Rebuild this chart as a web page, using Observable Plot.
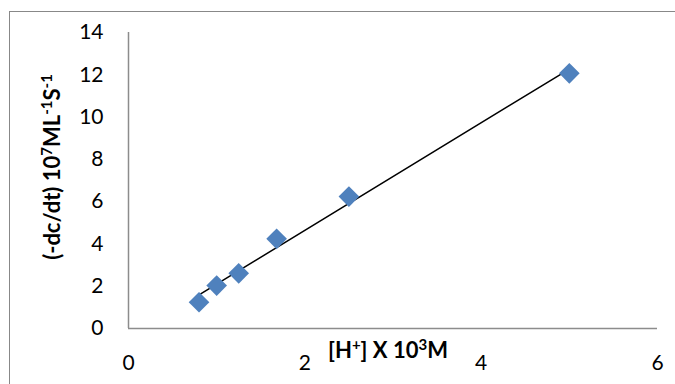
<!DOCTYPE html>
<html>
<head>
<meta charset="utf-8">
<script src="https://cdn.jsdelivr.net/npm/d3@7"></script>
<script src="https://cdn.jsdelivr.net/npm/@observablehq/plot@0.6"></script>
<style>
  html, body { margin: 0; padding: 0; background: #fff; overflow: hidden; }
  #wrap { position: relative; width: 675px; height: 384px; font-family: Lato, "Open Sans", sans-serif; }
  #border { position: absolute; left: 9px; top: 11px; width: 700px; height: 400px; border: 1.5px solid #888; box-sizing: border-box; }
  .title { position: absolute; font-weight: bold; font-size: 22px; color: #000; white-space: nowrap; line-height: 1; }
  .title sup { font-size: 15px; vertical-align: 8px; line-height: 0; }
  #ytitle { left: 52px; top: 167px; transform: translate(-50%, -50%) rotate(-90deg); }
  #xtitle { left: 388px; top: 350px; transform: translate(-50%, -50%); }
  svg { position: absolute; left: 0; top: 0; }
</style>
</head>
<body>
<div id="wrap">
  <div id="border"></div>
  <div id="chart"></div>
  <div class="title" id="ytitle">(-dc/dt) 10<sup>7</sup>ML<sup>-1</sup>S<sup>-1</sup></div>
  <div class="title" id="xtitle">[H<sup>+</sup>] X 10<sup>3</sup>M</div>
</div>
<script>
const hConc = [0.8, 1.0, 1.25, 1.68, 2.5, 5.0];
const rate = [1.24, 2.03, 2.61, 4.24, 6.24, 12.07];
const xTicks = [0, 2, 4, 6];
const yTicks = [0, 2, 4, 6, 8, 10, 12, 14];

const data = hConc.map((x, i) => ({x, y: rate[i]}));

const chart = Plot.plot({
  width: 675,
  height: 384,
  marginLeft: 128,
  marginRight: 18,
  marginTop: 32,
  marginBottom: 56,
  style: {fontFamily: "Lato, 'Open Sans', sans-serif", fontSize: "21px", color: "#000", background: "transparent", overflow: "visible"},
  x: {domain: [0, 6], ticks: xTicks, tickFormat: d3.format("d"), tickSize: 0, tickPadding: 27, label: null},
  y: {domain: [0, 14], ticks: yTicks, tickFormat: d3.format("d"), tickSize: 0, tickPadding: 25, label: null},
  marks: [
    Plot.ruleX([0], {stroke: "#8c8c8c", strokeWidth: 1.5}),
    Plot.ruleY([0], {stroke: "#8c8c8c", strokeWidth: 1.5}),
    Plot.linearRegressionY(data, {x: "x", y: "y", ci: 0, stroke: "#000", strokeWidth: 1.5}),
    Plot.dot(data, {x: "x", y: "y", symbol: "diamond2", r: 9.3, fill: "#4F81BD", stroke: "none"})
  ]
});
document.getElementById("chart").appendChild(chart);
</script>
</body>
</html>
